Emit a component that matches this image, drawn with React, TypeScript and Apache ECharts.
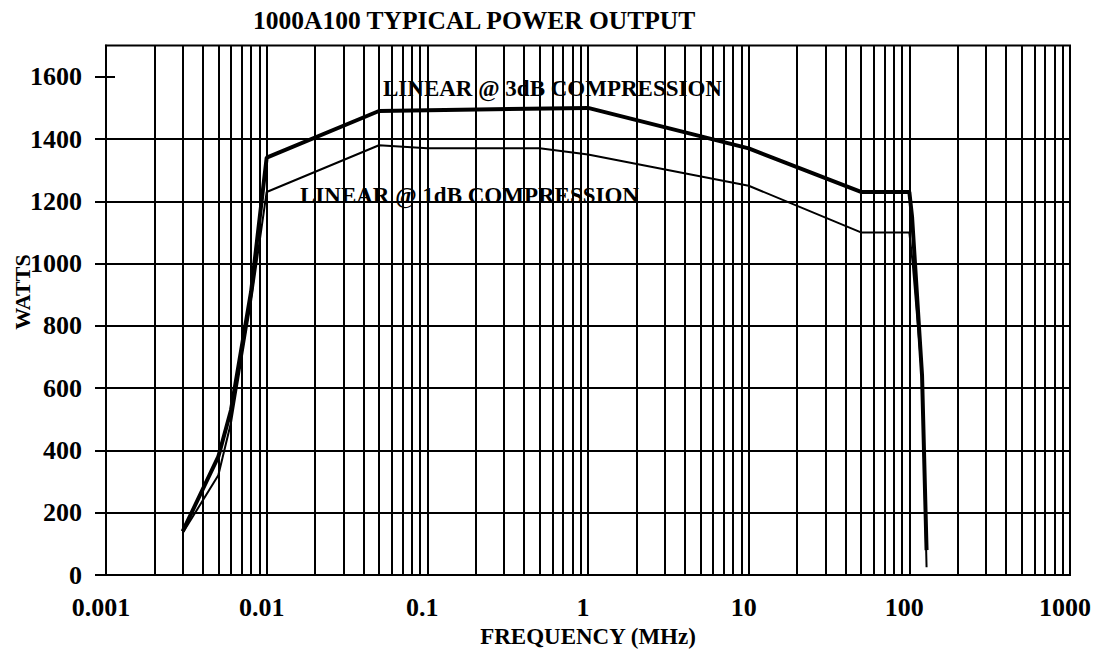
import React, { useEffect, useRef } from "react";
import * as echarts from "echarts";

// ---- data ----
const freq3dB = [0.003, 0.005, 0.006, 0.008, 0.01, 0.05, 1, 10, 50, 100, 104, 120, 128];
const watts3dB = [140, 380, 530, 910, 1340, 1490, 1500, 1370, 1230, 1230, 1150, 640, 80];

const freq1dB = [0.003, 0.005, 0.006, 0.008, 0.01, 0.05, 0.1, 0.5, 1, 10, 50, 100, 105, 120, 128];
const watts1dB = [135, 320, 490, 880, 1230, 1380, 1370, 1370, 1350, 1250, 1100, 1100, 1000, 640, 25];

// axis ticks
const xDecades = [0.001, 0.01, 0.1, 1, 10, 100, 1000];
const xTickLabels = ["0.001", "0.01", "0.1", "1", "10", "100", "1000"];
const xMinorMultipliers = [1, 2, 3, 4, 5, 6, 7, 8, 9];
const yTicks = [0, 200, 400, 600, 800, 1000, 1200, 1400, 1600];

const TITLE = "1000A100 TYPICAL POWER OUTPUT";
const X_NAME = "FREQUENCY (MHz)";
const Y_NAME = "WATTS";
const LABEL_3DB = "LINEAR @ 3dB COMPRESSION";
const LABEL_1DB = "LINEAR @ 1dB COMPRESSION";

const FONT = "'Liberation Serif', 'Times New Roman', serif";

export default function App() {
  const ref = useRef<HTMLDivElement>(null);

  useEffect(() => {
    if (!ref.current) return;
    const chart = echarts.init(ref.current, undefined, { renderer: "svg" });

    const xGridValues: number[] = [];
    for (let d = 0; d < xDecades.length - 1; d++) {
      for (const m of xMinorMultipliers) {
        xGridValues.push(Number((xDecades[d] * m).toPrecision(4)));
      }
    }
    xGridValues.push(xDecades[xDecades.length - 1]);

    const splitColors = yTicks.map((v, i) => (i === yTicks.length - 1 ? "rgba(0,0,0,0)" : "#000"));

    chart.setOption({
      animation: false,
      backgroundColor: "#fff",
      title: {
        text: TITLE,
        left: 253,
        top: 7,
        padding: 0,
        textStyle: { fontFamily: FONT, fontWeight: "bold", fontSize: 25.5, color: "#000" },
      },
      grid: {
        left: 106,
        right: 28,
        top: 45.6,
        bottom: 82,
        show: true,
        borderColor: "#000",
        borderWidth: 2,
        backgroundColor: "transparent",
      },
      xAxis: {
        type: "log",
        logBase: 10,
        min: 0.001,
        max: 1000,
        name: X_NAME,
        nameLocation: "middle",
        nameGap: 43,
        nameTextStyle: { fontFamily: FONT, fontWeight: "bold", fontSize: 23, color: "#000" },
        axisLine: { show: true, lineStyle: { color: "#000", width: 2 } },
        axisTick: { show: false, customValues: xGridValues },
        axisLabel: {
          customValues: xDecades,
          margin: 19,
          padding: [0, 10, 0, 0],
          fontFamily: FONT,
          fontWeight: "bold",
          fontSize: 26,
          color: "#000",
          formatter: (v: number) => xTickLabels[Math.round(Math.log10(v)) + 3],
        },
        splitLine: { show: true, lineStyle: { color: "#000", width: 2 } },
        minorTick: { show: false },
      },
      yAxis: [
        {
          type: "value",
          min: 0,
          max: 1700,
          axisLine: { show: true, lineStyle: { color: "#000", width: 2 } },
          axisTick: {
            show: true,
            length: 11,
            customValues: yTicks,
            lineStyle: { color: "#000", width: 2 },
          },
          axisLabel: {
            customValues: yTicks,
            margin: 24,
            fontFamily: FONT,
            fontWeight: "bold",
            fontSize: 26,
            color: "#000",
            formatter: (v: number) => String(v),
          },
          splitLine: { show: true, lineStyle: { color: splitColors, width: 2 } },
        },
        {
          type: "value",
          min: 0,
          max: 1700,
          position: "left",
          axisLine: { show: false },
          axisLabel: { show: false },
          splitLine: { show: false },
          axisTick: {
            show: true,
            inside: true,
            length: 9,
            customValues: [yTicks[yTicks.length - 1]],
            lineStyle: { color: "#000", width: 2 },
          },
        },
      ],
      graphic: [
        {
          type: "text",
          x: 22,
          y: 292,
          rotation: Math.PI / 2,
          style: {
            text: Y_NAME,
            font: `bold 22px ${FONT}`,
            fill: "#000",
            textAlign: "center",
            textVerticalAlign: "middle",
          },
        },
        {
          type: "text",
          x: 383,
          y: 88,
          z: 10,
          style: {
            text: LABEL_3DB,
            font: `bold 23px ${FONT}`,
            fill: "#000",
            textAlign: "left",
            textVerticalAlign: "middle",
          },
        },
        {
          type: "text",
          x: 300,
          y: 195,
          z: 10,
          style: {
            text: LABEL_1DB,
            font: `bold 23px ${FONT}`,
            fill: "#000",
            textAlign: "left",
            textVerticalAlign: "middle",
          },
        },
      ],
      series: [
        {
          name: "3dB",
          type: "line",
          symbol: "none",
          lineStyle: { color: "#000", width: 4 },
          data: freq3dB.map((f, i) => [f, watts3dB[i]]),
          z: 5,
        },
        {
          name: "1dB",
          type: "line",
          symbol: "none",
          lineStyle: { color: "#000", width: 2 },
          data: freq1dB.map((f, i) => [f, watts1dB[i]]),
          z: 4,
        },
      ],
    });

    return () => chart.dispose();
  }, []);

  return (
    <div
      ref={ref}
      style={{ position: "absolute", left: 0, top: 0, width: 1098, height: 657 }}
    />
  );
}
